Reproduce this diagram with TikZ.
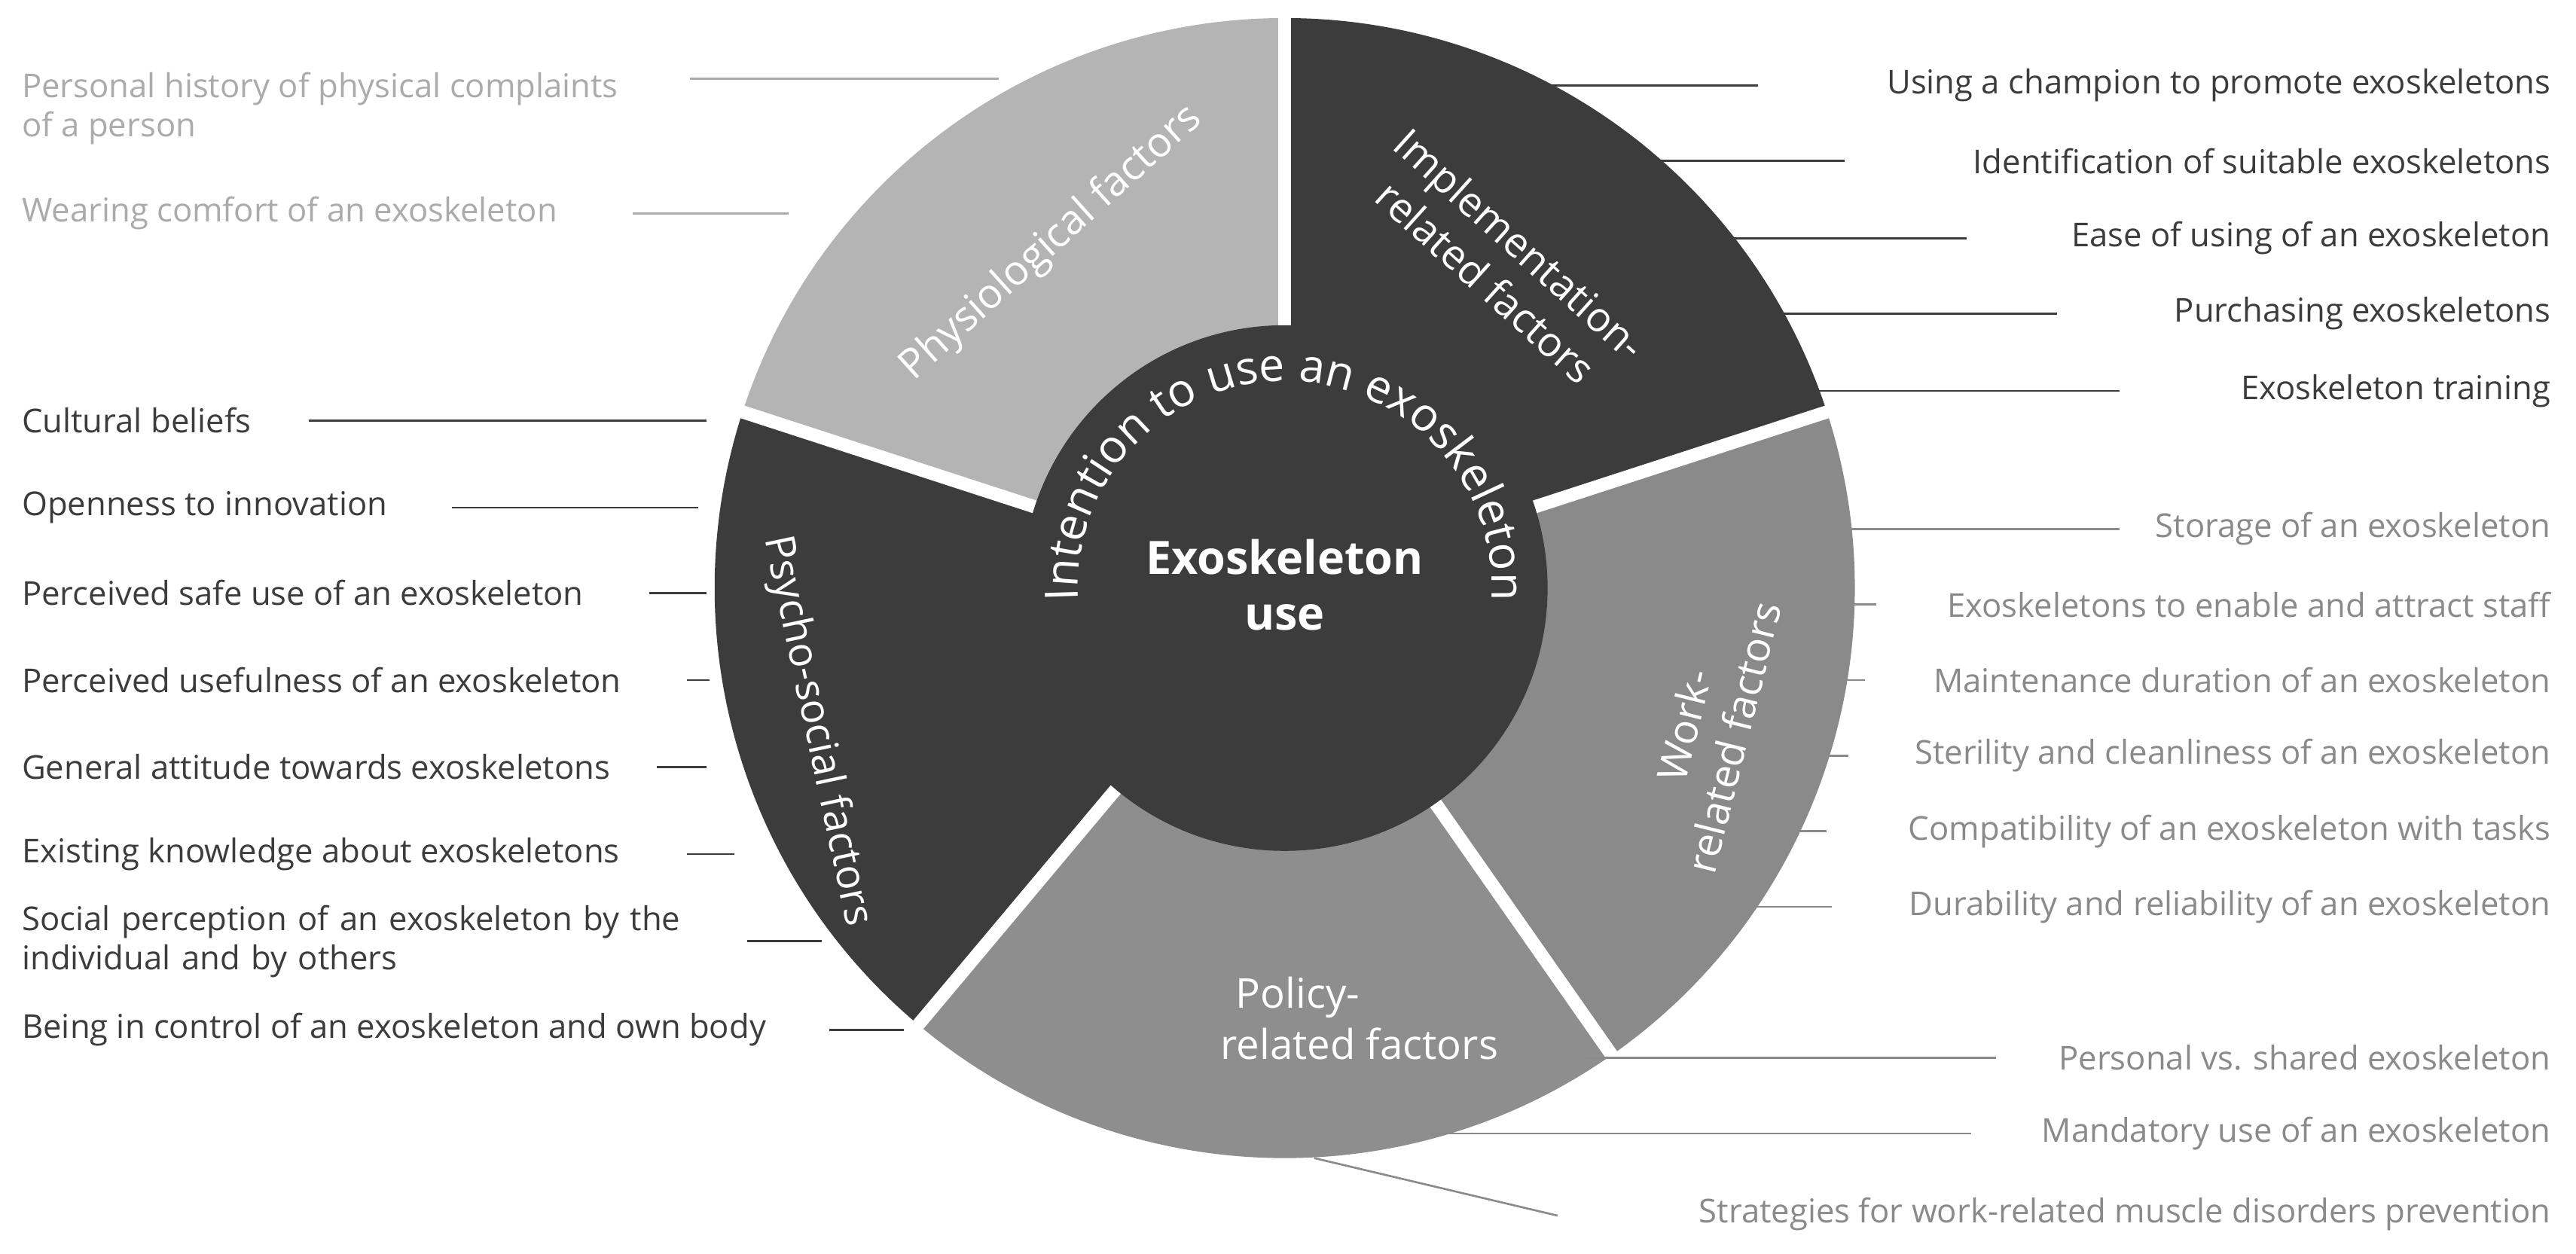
\documentclass[tikz,border=0pt]{standalone}
\usepackage{fontspec}
\setmainfont{Open Sans}
\usetikzlibrary{decorations.text}
\definecolor{dk}{HTML}{3C3C3C}
\definecolor{wk}{HTML}{8A8A8A}
\definecolor{pl}{HTML}{8E8E8E}
\definecolor{ph}{HTML}{B4B4B4}
\definecolor{phl}{HTML}{ABABAB}
\begin{document}
\begin{tikzpicture}[x=0.5pt,y=0.5pt,
  lab/.style={font=\fontsize{10}{12}\selectfont, inner sep=0pt, align=left},
  rlab/.style={lab, anchor=east, align=right},
  llab/.style={lab, anchor=west},
  seclab/.style={font=\fontsize{12.5}{15.5}\selectfont, text=white, align=center, inner sep=0pt},
  lead/.style={line width=0.6pt},
  gap/.style={white, line width=4pt}]
\useasboundingbox (0,0) rectangle (1568,763);
\coordinate (C) at (782,405);
% sectors
\fill[dk] (C) -- ++(90:173.5pt) arc[start angle=90,end angle=18,radius=173.5pt] -- cycle;
\fill[wk] (C) -- ++(18:173.5pt) arc[start angle=18,end angle=-55,radius=173.5pt] -- cycle;
\fill[pl] (C) -- ++(-55:173.5pt) arc[start angle=-55,end angle=-130,radius=173.5pt] -- cycle;
\fill[dk] (C) -- ++(-130:173.5pt) arc[start angle=-130,end angle=-198,radius=173.5pt] -- cycle;
\fill[ph] (C) -- ++(162:173.5pt) arc[start angle=162,end angle=90,radius=173.5pt] -- cycle;
\foreach \a in {90,18,-55,-130,162} \draw[gap] (C) -- ++(\a:176pt);
\fill[dk] (C) circle[radius=80pt];
% curved text
\path[decorate, decoration={text along path, text align=center,
  text={|\color{white}\fontsize{14}{14}\selectfont|Intention to use an exoskeleton}}]
  (C) ++(198:63pt) arc[start angle=198,end angle=-18,radius=63pt];
\node[font=\bfseries\fontsize{14}{17}\selectfont, text=white, align=center] (ctr) at (782,407) {Exoskeleton\\use};
% sector labels
\node[seclab, rotate=42] (s1) at (640,615) {Physiological factors};
\node[seclab, rotate=-42] (s2) at (915,603) {Implementation-\\related factors};
\node[seclab, rotate=76] (s3) at (1040,318) {Work-\\related factors};
\node[seclab] (s4) at (790,143) {Policy-\\\hspace*{3em}related factors};
\node[seclab, rotate=-78] (s5) at (497,318) {Psycho-social factors};
% implementation labels
\begin{scope}[text=dk, draw=dk]
\node[rlab] (i1) at (1553,711) {Using a champion to promote exoskeletons};
\node[rlab] (i2) at (1553,665) {Identification of suitable exoskeletons};
\node[rlab] (i3) at (1553,618) {Ease of using of an exoskeleton};
\node[rlab] (i4) at (1553,572) {Purchasing exoskeletons};
\node[rlab] (i5) at (1553,525) {Exoskeleton training};
\coordinate (ia1) at (935,711); \coordinate (ib1) at (1070,711);
\coordinate (ia2) at (1003,665); \coordinate (ib2) at (1123,665);
\coordinate (ia3) at (1045,618); \coordinate (ib3) at (1197,618);
\coordinate (ia4) at (1080,572); \coordinate (ib4) at (1252,572);
\coordinate (ia5) at (1100,525); \coordinate (ib5) at (1290,525);
\foreach \k in {1,...,5} \draw[lead] (ia\k) -- (ib\k);
% psycho labels
\node[llab] (p1) at (13,507) {Cultural beliefs};
\node[llab] (p2) at (13,454) {Openness to innovation};
\node[llab] (p3) at (13,402) {Perceived safe use of an exoskeleton};
\node[llab] (p4) at (13,349) {Perceived usefulness of an exoskeleton};
\node[llab] (p5) at (13,296) {General attitude towards exoskeletons};
\node[llab] (p6) at (13,243) {Existing knowledge about exoskeletons};
\node[llab, text width=230pt] (p7) at (13,190) {Social perception of an exoskeleton by the\\individual and by others};
\node[llab] (p8) at (13,136) {Being in control of an exoskeleton and own body};
\coordinate (pa1) at (188,507); \coordinate (pb1) at (430,507);
\coordinate (pa2) at (275,454); \coordinate (pb2) at (425,454);
\coordinate (pa3) at (395,402); \coordinate (pb3) at (430,402);
\coordinate (pa4) at (418,349); \coordinate (pb4) at (432,349);
\coordinate (pa5) at (400,296); \coordinate (pb5) at (430,296);
\coordinate (pa6) at (418,243); \coordinate (pb6) at (447,243);
\coordinate (pa7) at (455,190); \coordinate (pb7) at (500,190);
\coordinate (pa8) at (505,136); \coordinate (pb8) at (550,136);
\foreach \k in {1,...,8} \draw[lead] (pa\k) -- (pb\k);
\end{scope}
% work and policy labels
\begin{scope}[text=wk, draw=wk]
\node[rlab] (w1) at (1553,441) {Storage of an exoskeleton};
\node[rlab] (w2) at (1553,395) {Exoskeletons to enable and attract staff};
\node[rlab] (w3) at (1553,349) {Maintenance duration of an exoskeleton};
\node[rlab] (w4) at (1553,303) {Sterility and cleanliness of an exoskeleton};
\node[rlab] (w5) at (1553,257) {Compatibility of an exoskeleton with tasks};
\node[rlab] (w6) at (1553,211) {Durability and reliability of an exoskeleton};
\coordinate (wa1) at (1118,441); \coordinate (wb1) at (1290,441);
\coordinate (wa2) at (1118,395); \coordinate (wb2) at (1142,395);
\coordinate (wa3) at (1118,349); \coordinate (wb3) at (1135,349);
\coordinate (wa4) at (1113,303); \coordinate (wb4) at (1125,303);
\coordinate (wa5) at (1090,257); \coordinate (wb5) at (1112,257);
\coordinate (wa6) at (1060,211); \coordinate (wb6) at (1115,211);
\foreach \k in {1,...,6} \draw[lead] (wa\k) -- (wb\k);
\node[rlab] (o1) at (1553,119) {Personal vs. shared exoskeleton};
\node[rlab] (o2) at (1553,73) {Mandatory use of an exoskeleton};
\node[rlab] (o3) at (1553,24) {Strategies for work-related muscle disorders prevention};
\coordinate (oa1) at (965,119); \coordinate (ob1) at (1215,119);
\coordinate (oa2) at (870,73); \coordinate (ob2) at (1200,73);
\coordinate (oa3) at (800,58); \coordinate (ob3) at (948,23);
\foreach \k in {1,...,3} \draw[lead] (oa\k) -- (ob\k);
\end{scope}
% physiological labels
\begin{scope}[text=phl, draw=phl]
\node[llab] (h1) at (13,697) {Personal history of physical complaints\\of a person};
\node[llab] (h2) at (13,633) {Wearing comfort of an exoskeleton};
\coordinate (ha1) at (420,715); \coordinate (hb1) at (608,715);
\coordinate (ha2) at (385,633); \coordinate (hb2) at (480,633);
\draw[lead] (ha1) -- (hb1);
\draw[lead] (ha2) -- (hb2);
\end{scope}
\end{tikzpicture}
\end{document}
